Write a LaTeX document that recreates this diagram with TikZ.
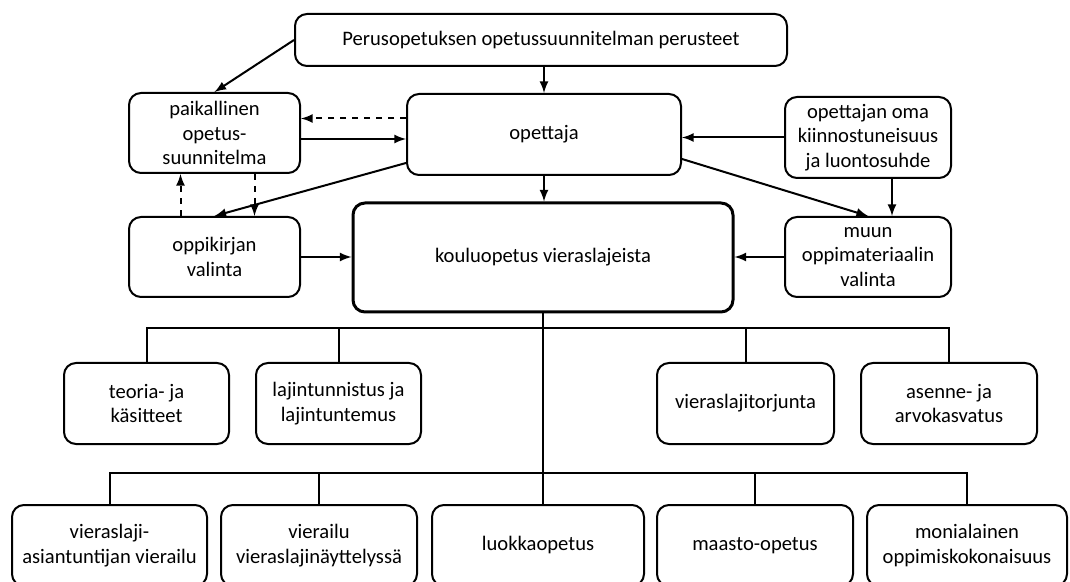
\documentclass[tikz,border=0pt]{standalone}
\usepackage{fontspec}
\setmainfont{Carlito}

\tikzset{
  box/.style = {draw, rounded corners = 6pt, line width = 1pt, align = center,
    inner sep = 0pt, minimum height = 40.5pt, font = \fontsize{10.3}{12.2}\selectfont},
  conn/.style = {line width = 1pt, ->},
  tree/.style = {line width = 1pt}
}

\begin{document}
\begin{tikzpicture}[x = 0.5pt, y = -0.5pt, >=latex]
\clip (0, 0) rectangle (1070, 582);
\fill[white] (0, 0) rectangle (1070, 582);

% upper part
\node (pops) at (541, 40) [box, minimum width = 246pt, minimum height = 26pt] {Perusopetuksen opetussuunnitelman perusteet};
\node (paik) at (214.5, 133) [box, minimum width = 85.5pt, minimum height = 40pt] {paikallinen\\opetus-\\suunnitelma};
\node (opet) at (544, 134.5) [box, minimum width = 137pt] {opettaja};
\node (kiin) at (868, 137.5) [box, minimum width = 83pt] {opettajan oma\\kiinnostuneisuus\\ja luontosuhde};
\node (oppik) at (214.5, 257) [box, minimum width = 85.5pt, minimum height = 40pt] {oppikirjan\\valinta};
\node (koulu) at (543, 257.5) [box, line width = 1.5pt, minimum width = 190pt, minimum height = 54.5pt] {kouluopetus vieraslajeista};
\node (muun) at (868, 257) [box, minimum width = 83pt, minimum height = 40pt] {muun\\oppimateriaalin\\valinta};

\draw[conn] (pops.west) to (paik.north);
\draw[conn] (opet.north |- pops.south) to (opet.north);
\draw[conn] (opet.south) to (opet.south |- koulu.north);
\draw[conn, dashed] ([yshift = 8pt]opet.west) to ([yshift = 8pt]opet.west -| paik.east);
\draw[conn] ([yshift = -3pt]paik.east) to ([yshift = -3pt]paik.east -| opet.west);
\draw[conn] ([yshift = 6.5pt]opet.south west) to (oppik.north);
\draw[conn] ([yshift = 8.5pt]opet.south east) to (muun.north);
\draw[conn] (kiin.west) to (kiin.west -| opet.east);
\draw[conn] ([xshift = 12pt]kiin.south) to ([xshift = 12pt]muun.north);
\draw[conn, dashed] ([xshift = -17pt]oppik.north) to ([xshift = -17pt]paik.south);
\draw[conn, dashed] ([xshift = 20pt]paik.south) to ([xshift = 20pt]oppik.north);
\draw[conn] (oppik.east) to (oppik.east -| koulu.west);
\draw[conn] (muun.west) to (muun.west -| koulu.east);

% contents
\node (teoria) at (146.5, 403.5) [box, minimum width = 82.5pt] {teoria- ja\\käsitteet};
\node (lajin) at (338.5, 403.5) [box, minimum width = 82.5pt] {lajintunnistus ja\\lajintuntemus};
\node (torj) at (745.5, 403.5) [box, minimum width = 88.5pt] {vieraslajitorjunta};
\node (asenne) at (949, 403.5) [box, minimum width = 88pt] {asenne- ja\\arvokasvatus};

% methods
\node (asiant) at (109.5, 545.5) [box, minimum width = 97.5pt] {vieraslaji-\\asiantuntijan vierailu};
\node (vierailu) at (319, 545.5) [box, minimum width = 98pt] {vierailu\\vieraslajinäyttelyssä};
\node (luokka) at (538, 545.5) [box, minimum width = 106pt] {luokkaopetus};
\node (maasto) at (755, 545.5) [box, minimum width = 98pt] {maasto-opetus};
\node (moni) at (967, 545.5) [box, minimum width = 100pt] {monialainen\\oppimiskokonaisuus};

\coordinate (bar1) at (545, 328);
\coordinate (bar2) at (545, 473);
\draw[tree] (koulu.south) to (koulu.south |- luokka.north);
\draw[tree] (teoria.north) |- (bar1) -| (asenne.north);
\draw[tree] (lajin.north) |- (bar1);
\draw[tree] (torj.north) |- (bar1);
\draw[tree] (asiant.north) |- (bar2) -| (moni.north);
\draw[tree] (vierailu.north) |- (bar2);
\draw[tree] (maasto.north) |- (bar2);
\end{tikzpicture}
\end{document}
